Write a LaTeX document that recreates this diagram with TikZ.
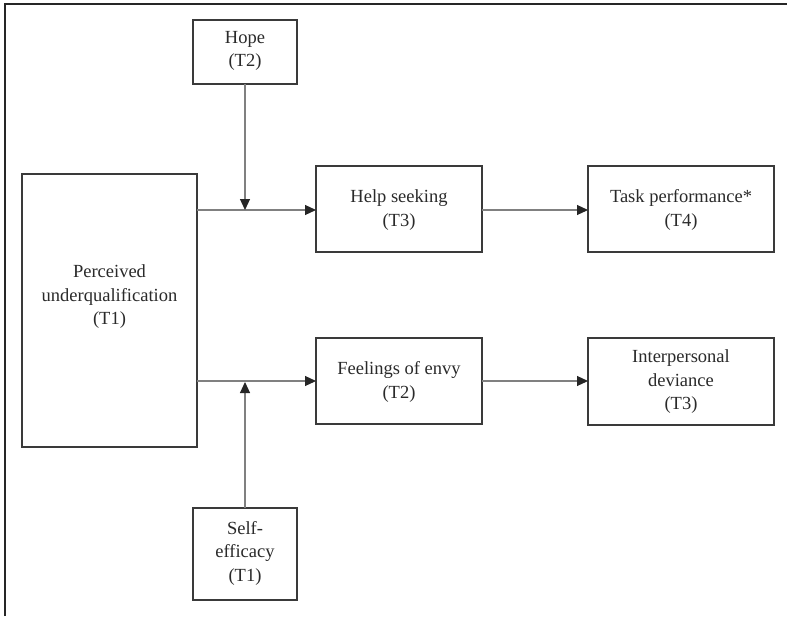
\documentclass[tikz,border=0pt]{standalone}
\usepackage{fontspec}
\setmainfont{Liberation Serif}
\usetikzlibrary{arrows.meta}
\definecolor{boxc}{HTML}{3A3A3A}
\definecolor{linec}{HTML}{808080}
\definecolor{txtc}{HTML}{2A2A2A}
\begin{document}
\begin{tikzpicture}[x=1pt,y=-1pt,
  box/.style={draw=boxc,line width=1.4pt,fill=white},
  lbl/.style={text=txtc,font=\fontsize{18.5}{23.5}\selectfont,align=center,inner sep=0pt},
  conn/.style={draw=linec,line width=1.1pt,-{Triangle[length=11pt,width=10pt,color=black!85]}}]
\useasboundingbox (0,0) rectangle (787,616);
% outer frame (only top and left visible)
\draw[line width=2pt,color=black!85] (5,616) -- (5,4) -- (787,4);
% boxes
\draw[box] (193,20) rectangle (297,84);
\node[lbl] (hope) at (245,51) {Hope\\(T2)};
\coordinate (hopeB) at (245,84);
\draw[box] (22,174) rectangle (197,447);
\node[lbl] (pu) at (109.5,297) {Perceived\\underqualification\\(T1)};
\draw[box] (316,166) rectangle (482,252);
\node[lbl] (help) at (399,210) {Help seeking\\(T3)};
\draw[box] (588,166) rectangle (774,252);
\node[lbl] (task) at (681,210) {Task performance*\\(T4)};
\draw[box] (316,338) rectangle (482,424);
\node[lbl] (envy) at (399,382) {Feelings of envy\\(T2)};
\draw[box] (588,338) rectangle (774,425);
\node[lbl] (dev) at (681,382) {Interpersonal\\deviance\\(T3)};
\draw[box] (193,508) rectangle (297,600);
\node[lbl] (se) at (245,553) {Self-\\efficacy\\(T1)};
\coordinate (seT) at (245,508);
% connector anchor points
\coordinate (puA) at (197,210);
\coordinate (helpL) at (316,210);
\coordinate (puB) at (197,381);
\coordinate (envyL) at (316,381);
\coordinate (m1) at (245,210);
\coordinate (m2) at (245,382);
\coordinate (helpR) at (482,210);
\coordinate (taskL) at (588,210);
\coordinate (envyR) at (482,381);
\coordinate (devL) at (588,381);
% connectors
\draw[conn] (puA) -- (helpL);
\draw[conn] (puB) -- (envyL);
\draw[conn] (hopeB) -- (m1);
\draw[conn] (seT) -- (m2);
\draw[conn] (helpR) -- (taskL);
\draw[conn] (envyR) -- (devL);
\end{tikzpicture}
\end{document}
